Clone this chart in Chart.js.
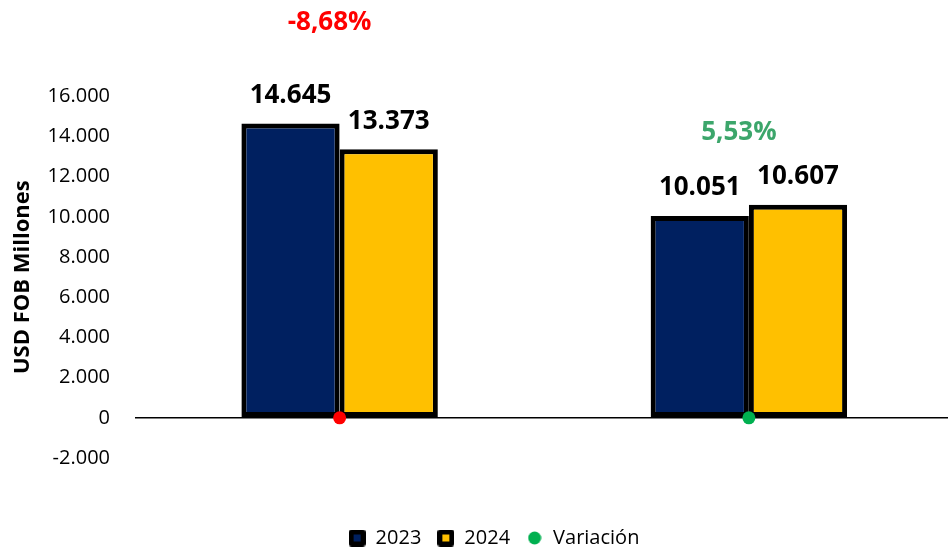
<!DOCTYPE html>
<html lang="es">
<head>
    <meta charset="utf-8" />
    <title>Exportaciones USD FOB</title>
    <script src="https://cdn.jsdelivr.net/npm/chart.js@4.4.0/dist/chart.umd.min.js"></script>
    <style>
        html, body { margin: 0; padding: 0; background: #fff; overflow: hidden; }
        #wrap { width: 960px; height: 548px; }
    </style>
</head>
<body>
    <div id="wrap"><canvas id="chart"></canvas></div>
    <script>
        // data
        const categories = ['', ''];
        const values2023 = [14645, 10051];
        const values2024 = [13373, 10607];
        const variation = [-8.68, 5.53];
        const yTicks = [-2000, 0, 2000, 4000, 6000, 8000, 10000, 12000, 14000, 16000];
        const yTitle = 'USD FOB Millones';

        const NAVY = '#002060';
        const GOLD = '#FFC000';
        const FONT = '"Open Sans", "DejaVu Sans", sans-serif';

        const fmt = v => v.toLocaleString('de-DE');
        const fmtPct = v => v.toFixed(2).replace('.', ',') + '%';

        // legend markers drawn on small canvases
        function boxMarker(color) {
            const c = document.createElement('canvas');
            c.width = 17; c.height = 17;
            const g = c.getContext('2d');
            g.fillStyle = '#000';
            g.beginPath(); g.roundRect(0, 0, 17, 17, 3); g.fill();
            g.fillStyle = color;
            g.fillRect(5, 5, 7, 7);
            return c;
        }
        function dotMarker(color) {
            const c = document.createElement('canvas');
            c.width = 14; c.height = 14;
            const g = c.getContext('2d');
            g.fillStyle = color;
            g.beginPath(); g.arc(7, 7, 6.5, 0, Math.PI * 2); g.fill();
            return c;
        }
        const markers = [boxMarker(NAVY), boxMarker(GOLD), dotMarker('#00B050')];

        const labelsPlugin = {
            id: 'labels',
            afterDatasetsDraw(chart) {
                const ctx = chart.ctx;
                ctx.save();
                ctx.textAlign = 'center';
                ctx.textBaseline = 'middle';
                ctx.font = 'bold 26px ' + FONT;
                ctx.fillStyle = '#000';
                [0, 1].forEach(di => {
                    chart.getDatasetMeta(di).data.forEach((bar, i) => {
                        const v = chart.data.datasets[di].data[i];
                        ctx.fillText(fmt(v), bar.x, bar.y - 28);
                    });
                });
                // variation labels, placed above the bars as in the source
                const meta = chart.getDatasetMeta(2);
                const lift = [101, 72];
                meta.data.forEach((pt, i) => {
                    const top = Math.min(chart.getDatasetMeta(0).data[i].y, chart.getDatasetMeta(1).data[i].y);
                    ctx.fillStyle = variation[i] < 0 ? '#FF0000' : '#3CA66B';
                    ctx.fillText(fmtPct(variation[i]), pt.x - 10, top - lift[i]);
                });
                // y axis title, sits a bit lower than the scale centre
                const ys = chart.scales.y;
                ctx.translate(23, ys.getPixelForValue(7000));
                ctx.rotate(-Math.PI / 2);
                ctx.font = 'bold 22px ' + FONT;
                ctx.fillStyle = '#000';
                ctx.fillText(yTitle, 0, 0);
                ctx.restore();
            },
            afterLayout(chart) {
                const lg = chart.legend;
                lg.left += 15;
                lg.right += 15;
                lg.top += 46;
                lg.bottom += 46;
            }
        };

        new Chart(document.getElementById('chart'), {
            data: {
                labels: categories,
                datasets: [
                    {
                        type: 'bar',
                        label: '2023',
                        data: values2023,
                        backgroundColor: NAVY,
                        borderColor: '#000',
                        borderWidth: 5,
                        borderSkipped: false,
                        order: 2
                    },
                    {
                        type: 'bar',
                        label: '2024',
                        data: values2024,
                        backgroundColor: GOLD,
                        borderColor: '#000',
                        borderWidth: 5,
                        borderSkipped: false,
                        order: 2
                    },
                    {
                        type: 'line',
                        label: 'Variación',
                        data: variation.map(() => 0),
                        showLine: false,
                        pointRadius: 6.5,
                        pointBackgroundColor: variation.map(v => v < 0 ? '#FF0000' : '#00B050'),
                        pointBorderWidth: 0,
                        pointStyle: 'circle',
                        order: 1
                    }
                ]
            },
            options: {
                responsive: true,
                maintainAspectRatio: false,
                animation: false,
                layout: { padding: { top: 16, right: 2, bottom: 36, left: 0 } },
                datasets: {
                    bar: { categoryPercentage: 0.48, barPercentage: 1 }
                },
                scales: {
                    x: {
                        grid: { display: false },
                        border: { display: false },
                        ticks: { display: false }
                    },
                    y: {
                        min: -2000,
                        max: 20000,
                        afterBuildTicks(scale) {
                            scale.ticks = yTicks.map(v => ({ value: v }));
                        },
                        afterFit(scale) {
                            scale.width = 135;
                            scale.paddingTop = 0;
                            scale.paddingBottom = 0;
                        },
                        grid: {
                            drawTicks: false,
                            color: c => c.tick && c.tick.value === 0 ? '#000' : 'rgba(0,0,0,0)',
                            lineWidth: 1.5
                        },
                        border: { display: false },
                        ticks: {
                            padding: 25,
                            color: '#000',
                            font: { family: FONT, size: 20 },
                            callback: v => fmt(v)
                        }
                    }
                },
                plugins: {
                    legend: {
                        position: 'bottom',
                        labels: {
                            usePointStyle: true,
                            color: '#000',
                            font: { family: FONT, size: 20 },
                            boxHeight: 17,
                            boxWidth: 17,
                            padding: 16,
                            sort: (a, b) => a.datasetIndex - b.datasetIndex,
                            generateLabels(chart) {
                                const items = Chart.defaults.plugins.legend.labels.generateLabels(chart);
                                items.forEach(it => { it.pointStyle = markers[it.datasetIndex]; });
                                return items;
                            }
                        }
                    },
                    tooltip: { enabled: false }
                }
            },
            plugins: [labelsPlugin]
        });
    </script>
</body>
</html>
